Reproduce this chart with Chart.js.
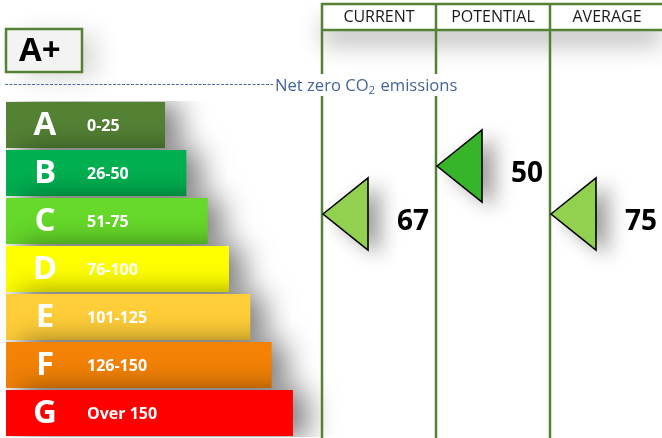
<!DOCTYPE html>
<html>
<head>
<meta charset="utf-8">
<script src="https://cdn.jsdelivr.net/npm/chart.js@4"></script>
<style>
  html, body { margin: 0; padding: 0; background: #ffffff; }
  canvas { display: block; }
</style>
</head>
<body>
<canvas id="epc" width="662" height="438"></canvas>
<script>
// Rating bands (top = best)
const bandLetters = ['A', 'B', 'C', 'D', 'E', 'F', 'G'];
const bandRanges = ['0-25', '26-50', '51-75', '76-100', '101-125', '126-150', 'Over 150'];
const bandUpper = [25, 50, 75, 100, 125, 150, Infinity];
const bandColors = ['#548235', '#00B050', '#66D92A', '#FFFF00', '#FFCE38', '#F38206', '#FF0000'];
const pointerColors = ['#548235', '#36B52B', '#92D050', '#FFFF00', '#FFCE38', '#F38206', '#FF0000'];

// Score columns
const columnTitles = ['CURRENT', 'POTENTIAL', 'AVERAGE'];
const columnValues = [67, 50, 75];

const topRatingLabel = 'A+';
const netZeroText = ['Net zero CO', '2', ' emissions'];

// Layout (pixels)
const BAR_LEFT = 6;
const BAR_MIN_LEN = 159;
const BAR_STEP = 21.33;
const COL_LEFT = [322, 436, 550];
const COL_W = 114;
const GREEN = '#548235';
const FONT = '"Open Sans", "Noto Sans", sans-serif';

function bandOf(v) {
  for (let i = 0; i < bandUpper.length; i++) if (v <= bandUpper[i]) return i;
  return bandUpper.length - 1;
}

const barLengths = bandLetters.map((_, i) => BAR_MIN_LEN + BAR_STEP * i);

const decor = {
  id: 'epcDecor',
  beforeDatasetsDraw(chart) {
    const ctx = chart.ctx;
    ctx.save();
    // header row with soft shadow
    ctx.shadowColor = 'rgba(0,0,0,0.24)';
    ctx.shadowBlur = 24;
    ctx.shadowOffsetX = 0;
    ctx.shadowOffsetY = 16;
    ctx.fillStyle = '#ffffff';
    ctx.fillRect(COL_LEFT[0], 4, 662 - COL_LEFT[0], 26);
    // A+ box
    ctx.shadowColor = 'rgba(0,0,0,0.16)';
    ctx.shadowBlur = 26;
    ctx.shadowOffsetX = 14;
    ctx.shadowOffsetY = 6;
    ctx.fillStyle = '#f3f3f3';
    ctx.fillRect(6, 29, 76, 43);
    ctx.restore();

    ctx.save();
    ctx.strokeStyle = GREEN;
    ctx.lineWidth = 2.5;
    ctx.strokeRect(6, 29, 76, 43);
    ctx.fillStyle = '#000000';
    ctx.font = 'bold 33px ' + FONT;
    ctx.textAlign = 'left';
    ctx.textBaseline = 'middle';
    ctx.fillText(topRatingLabel, 19, 52);

    // dashed net-zero line
    ctx.strokeStyle = '#4A6FA3';
    ctx.lineWidth = 1.2;
    ctx.setLineDash([3, 1.5]);
    ctx.beginPath();
    ctx.moveTo(5, 84.5);
    ctx.lineTo(273, 84.5);
    ctx.stroke();
    ctx.restore();

    // bar shadows
    ctx.save();
    ctx.shadowColor = 'rgba(0,0,0,0.55)';
    ctx.shadowBlur = 30;
    ctx.shadowOffsetX = 14;
    ctx.shadowOffsetY = 2;
  },
  afterDatasetsDraw(chart) {
    const ctx = chart.ctx;
    ctx.restore();
    const meta = chart.getDatasetMeta(0);
    const yScale = chart.scales.y;

    // band letters and ranges
    ctx.save();
    ctx.fillStyle = '#ffffff';
    ctx.textBaseline = 'middle';
    meta.data.forEach((bar, i) => {
      ctx.font = 'bold 33px ' + FONT;
      ctx.textAlign = 'center';
      ctx.fillText(bandLetters[i], 45, bar.y + 1);
      ctx.font = 'bold 16px ' + FONT;
      ctx.textAlign = 'left';
      ctx.fillText(bandRanges[i], 87, bar.y + 1);
    });
    ctx.restore();

    // column lines
    ctx.save();
    ctx.strokeStyle = GREEN;
    ctx.lineWidth = 2.5;
    ctx.beginPath();
    ctx.moveTo(COL_LEFT[0], 4); ctx.lineTo(662, 4);
    ctx.moveTo(COL_LEFT[0], 30); ctx.lineTo(662, 30);
    COL_LEFT.forEach(x => { ctx.moveTo(x, 3); ctx.lineTo(x, 438); });
    ctx.stroke();

    ctx.fillStyle = '#1a1a1a';
    ctx.font = '16px ' + FONT;
    ctx.textAlign = 'center';
    ctx.textBaseline = 'middle';
    columnTitles.forEach((t, i) => ctx.fillText(t, COL_LEFT[i] + COL_W / 2, 17.5));
    ctx.restore();

    // net-zero label on a white backing
    ctx.save();
    ctx.fillStyle = '#ffffff';
    ctx.fillRect(273, 74, 190, 22);
    ctx.fillStyle = '#446696';
    ctx.textBaseline = 'alphabetic';
    ctx.textAlign = 'left';
    let x = 275;
    const base = 91;
    ctx.font = '16.6px ' + FONT;
    ctx.fillText(netZeroText[0], x, base);
    x += ctx.measureText(netZeroText[0]).width;
    ctx.font = '11.5px ' + FONT;
    ctx.fillText(netZeroText[1], x, base + 3);
    x += ctx.measureText(netZeroText[1]).width + 1;
    ctx.font = '16.6px ' + FONT;
    ctx.fillText(netZeroText[2], x, base);
    ctx.restore();

    // score pointers
    columnValues.forEach((v, i) => {
      const b = bandOf(v);
      const yc = yScale.getPixelForValue(b);
      const ty = yc - 7;
      const x0 = COL_LEFT[i] + 1;
      ctx.save();
      ctx.beginPath();
      ctx.moveTo(x0, ty);
      ctx.lineTo(x0 + 45, ty - 36);
      ctx.lineTo(x0 + 45, ty + 36);
      ctx.closePath();
      ctx.shadowColor = 'rgba(0,0,0,0.4)';
      ctx.shadowBlur = 20;
      ctx.shadowOffsetX = 12;
      ctx.shadowOffsetY = 6;
      ctx.fillStyle = pointerColors[b];
      ctx.fill();
      ctx.shadowColor = 'rgba(0,0,0,0)';
      ctx.lineWidth = 1.6;
      ctx.strokeStyle = '#000000';
      ctx.lineJoin = 'miter';
      ctx.stroke();
      ctx.fillStyle = '#000000';
      ctx.font = 'bold 28px ' + FONT;
      ctx.textAlign = 'left';
      ctx.textBaseline = 'middle';
      ctx.fillText(String(v), COL_LEFT[i] + 75, yc + 1);
      ctx.restore();
    });
  }
};

new Chart(document.getElementById('epc'), {
  type: 'bar',
  data: {
    labels: bandLetters,
    datasets: [{
      data: barLengths,
      backgroundColor: bandColors,
      borderWidth: 0,
      barPercentage: 46 / 48,
      categoryPercentage: 1
    }]
  },
  options: {
    indexAxis: 'y',
    responsive: false,
    devicePixelRatio: 1,
    animation: false,
    layout: { padding: { left: BAR_LEFT, right: 0, top: 101, bottom: 1 } },
    scales: {
      x: { type: 'linear', min: 0, max: 656, display: false },
      y: { type: 'category', display: false }
    },
    plugins: { legend: { display: false }, tooltip: { enabled: false } }
  },
  plugins: [decor]
});
</script>
</body>
</html>
